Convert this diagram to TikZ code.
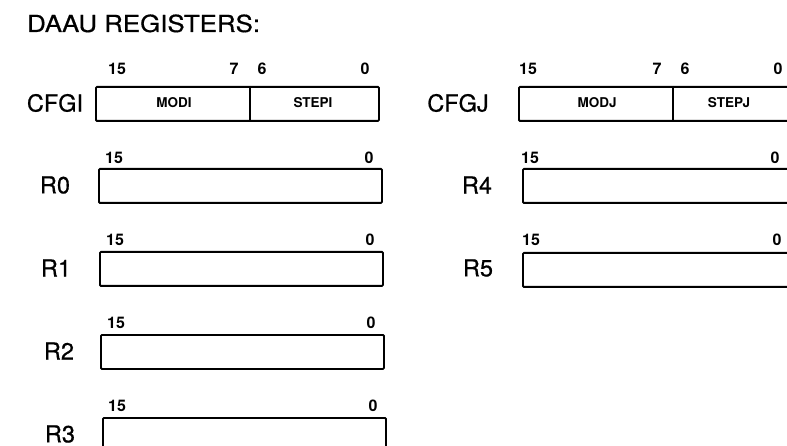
\documentclass[tikz,border=0pt]{standalone}
\usepackage{fontspec}
\setmainfont{TeX Gyre Heros}
\newfontfamily\titlefont[FakeStretch=1.1,FakeBold=0.6]{TeX Gyre Heros}
\newfontfamily\labelfont[FakeBold=0.6]{TeX Gyre Heros}
\begin{document}
\begin{tikzpicture}[x=1pt,y=-1pt,
  reg/.style={draw, line width=1.8pt, rounded corners=1pt, minimum width=283pt, minimum height=34pt, anchor=north west, inner sep=0pt},
  lbl/.style={font=\labelfont\fontsize{23.5}{24}\selectfont, inner sep=0pt},
  ttl/.style={font=\titlefont\fontsize{23.5}{24}\selectfont, inner sep=0pt},
  bit/.style={font=\bfseries\fontsize{16}{16}\selectfont, inner sep=0pt},
  fld/.style={font=\bfseries\fontsize{13.5}{14}\selectfont, inner sep=0pt},
  divider/.style={line width=1.3pt}]
\useasboundingbox (0,0) rectangle (787,446);
\clip (0,0) rectangle (787,446);

% title
\node[ttl, anchor=base west] (title) at (27,32) {DAAU REGISTERS:};

% ---- left column ----
\node[reg] (cfgi) at (95,86) {};
\draw[divider] ([xshift=155pt]cfgi.north west) -- ([xshift=155pt]cfgi.south west);
\node[lbl] (cfgil) at (55,103) {CFGI};
\node[bit] (cfgi15) at (117,69) {15};
\node[bit] (cfgi7) at (234,69) {7};
\node[bit] (cfgi6) at (262,69) {6};
\node[bit] (cfgi0) at (365,69) {0};
\node[fld] (modi) at (174,103) {MODI};
\node[fld] (stepi) at (313,103) {STEPI};

\node[reg] (r0) at (98,168) {};
\node[lbl] (r0l) at (55,185) {R0};
\node[bit] (r0a) at (114,158) {15};
\node[bit] (r0b) at (369,158) {0};

\node[reg] (r1) at (99,251) {};
\node[lbl] (r1l) at (56,268) {R1};
\node[bit] (r1a) at (115,240) {15};
\node[bit] (r1b) at (370,240) {0};

\node[reg] (r2) at (100,334) {};
\node[lbl] (r2l) at (59,351) {R2};
\node[bit] (r2a) at (116,323) {15};
\node[bit] (r2b) at (371,323) {0};

\node[reg] (r3) at (102,417) {};
\node[lbl] (r3l) at (60,434) {R3};
\node[bit] (r3a) at (117,406) {15};
\node[bit] (r3b) at (373,406) {0};

% ---- right column ----
\node[reg] (cfgj) at (518,86) {};
\draw[divider] ([xshift=155pt]cfgj.north west) -- ([xshift=155pt]cfgj.south west);
\node[lbl] (cfgjl) at (458,103) {CFGJ};
\node[bit] (cfgj15) at (528,69) {15};
\node[bit] (cfgj7) at (657,69) {7};
\node[bit] (cfgj6) at (685,69) {6};
\node[bit] (cfgj0) at (778,69) {0};
\node[fld] (modj) at (597,103) {MODJ};
\node[fld] (stepj) at (729,103) {STEPJ};

\node[reg] (r4) at (522,168) {};
\node[lbl] (r4l) at (477,185) {R4};
\node[bit] (r4a) at (530,158) {15};
\node[bit] (r4b) at (775,158) {0};

\node[reg] (r5) at (522,252) {};
\node[lbl] (r5l) at (478,268) {R5};
\node[bit] (r5a) at (531,240) {15};
\node[bit] (r5b) at (777,240) {0};
\end{tikzpicture}
\end{document}
